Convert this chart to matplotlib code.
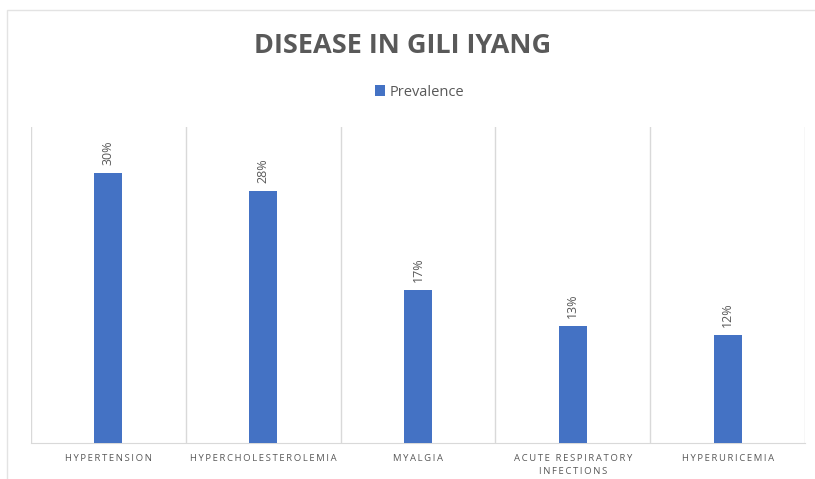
import matplotlib.pyplot as plt
from matplotlib.patches import Rectangle

# --- Data ---
categories = ['HYPERTENSION', 'HYPERCHOLESTEROLEMIA', 'MYALGIA',
              'ACUTE RESPIRATORY\nINFECTIONS', 'HYPERURICEMIA']
prevalence = [30, 28, 17, 13, 12]
series_name = 'Prevalence'
title = 'DISEASE IN GILI IYANG'

bar_color = '#4472C4'
text_gray = '#595959'
grid_gray = '#D9D9D9'


def spaced(s, sep='\u2009'):
    # spread letters out a little, like the original tick labels
    return '\n'.join(sep.join(line) for line in s.split('\n'))


fig = plt.figure(figsize=(8.15, 4.79), dpi=100)

# chart frame
fig.patches.append(Rectangle((7 / 815, -0.05), 1.1, 1 - 10 / 479 + 0.05,
                             transform=fig.transFigure, fill=False,
                             edgecolor='#E3E3E3', linewidth=1.0))

ax = fig.add_axes([31 / 815, 36 / 479, 774 / 815, 316 / 479])
x = range(len(categories))
bars = ax.bar(x, prevalence, width=0.18, color=bar_color, label=series_name, zorder=3)

for rect, v in zip(bars, prevalence):
    ax.annotate(f'{v}%', (rect.get_x() + rect.get_width() / 2, rect.get_height()),
                xytext=(0, 6), textcoords='offset points', rotation=90,
                ha='center', va='bottom', fontsize=9, color=text_gray,
                family='Open Sans')

ax.set_xlim(-0.5, len(categories) - 0.5)
ax.set_ylim(0, 35.1)
ax.set_xticks(list(x))
ax.set_xticklabels([spaced(c) for c in categories], fontsize=6.8, color=text_gray,
                   family='Open Sans', linespacing=1.5)
ax.set_xticks([i - 0.5 for i in range(len(categories) + 1)], minor=True)
ax.tick_params(axis='x', which='both', length=0, pad=8)
ax.set_yticks([])
ax.grid(axis='x', which='minor', color=grid_gray, linewidth=1.0, zorder=0)
ax.grid(axis='x', which='major', visible=False)
for side in ['top', 'left', 'right']:
    ax.spines[side].set_visible(False)
ax.spines['bottom'].set_color(grid_gray)

fig.text(0.494, 1 - 46 / 479, title, ha='center', va='center',
         fontsize=19.5, fontweight='bold', color=text_gray, family='Open Sans')
fig.legend(loc='center', bbox_to_anchor=(0.515, 1 - 92 / 479), frameon=False,
           handlelength=0.7, handleheight=0.7, handletextpad=0.3,
           prop={'family': 'Open Sans', 'size': 10.5}, labelcolor=text_gray)

fig.savefig('out.png', dpi=100)
